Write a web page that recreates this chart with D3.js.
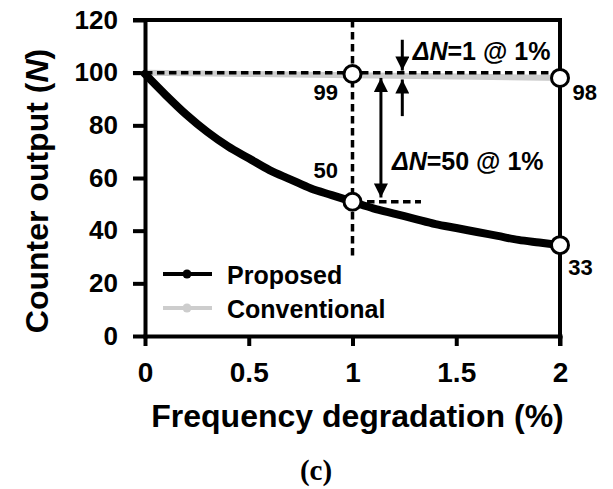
<!DOCTYPE html>
<html>
<head>
<meta charset="utf-8">
<script src="https://cdn.jsdelivr.net/npm/d3@7"></script>
<style>
  body { margin: 0; background: #fff; }
  text { font-family: "Liberation Sans", Arial, sans-serif; font-weight: bold; fill: #000; }
</style>
</head>
<body>
<svg id="chart" width="613" height="489"></svg>
<script>
// data
const degradation = [0, 0.1, 0.2, 0.3, 0.4, 0.5, 0.6, 0.7, 0.8, 0.9, 1.0, 1.1, 1.2, 1.3, 1.4, 1.5, 1.6, 1.7, 1.8, 1.9, 2.0]
const proposed = [99.5, 91.5, 84, 77.5, 72, 67.5, 63, 59.5, 56, 53.5, 51, 48.5, 46.5, 44.5, 42.5, 41, 39.5, 38, 36.5, 35.5, 34.5]
const convX = [0, 0.5, 1, 1.5, 2]
const conventional = [100, 99.5, 99, 98.5, 98]
const xTicks = [0, 0.5, 1, 1.5, 2]
const yTicks = [0, 20, 40, 60, 80, 100, 120]
const markers = [
  {x: 1, y: 99.5, label: "99"},
  {x: 1, y: 51, label: "50"},
  {x: 2, y: 34.5, label: "33"},
  {x: 2, y: 98, label: "98"}
]

const svg = d3.select("#chart")
const x = d3.scaleLinear().domain([0, 2]).range([145, 560])
const y = d3.scaleLinear().domain([0, 120]).range([336, 20])

const defs = svg.append("defs")
defs.append("marker")
    .attr("id", "head")
    .attr("viewBox", "0 0 10 10")
    .attr("refX", 10).attr("refY", 5)
    .attr("markerWidth", 18).attr("markerHeight", 14)
    .attr("markerUnits", "userSpaceOnUse")
    .attr("orient", "auto-start-reverse")
  .append("path")
    .attr("d", "M0,0 L10,5 L0,10 Z")
    .attr("fill", "#000")

// conventional (grey) line
svg.append("path")
    .attr("d", d3.line().x((d, i) => x(convX[i])).y(d => y(d))(conventional))
    .attr("fill", "none")
    .attr("stroke", "#cdcdcd")
    .attr("stroke-width", 6)

// dashed guides
const dash = (x1, y1, x2, y2) => svg.append("line")
    .attr("x1", x(x1)).attr("y1", y(y1)).attr("x2", x(x2)).attr("y2", y(y2))
    .attr("stroke", "#000").attr("stroke-width", 3.5)
    .attr("stroke-dasharray", "7.5,4.5")
dash(-0.058, 100, 2, 100)
dash(1, 120, 1, 30.5)
dash(1.07, 51, 1.33, 51)

// axes
const yAxis = svg.append("g")
    .attr("transform", `translate(${x(0)},0)`)
    .call(d3.axisLeft(y).tickValues(yTicks).tickSize(12).tickSizeOuter(0).tickPadding(15))
const xAxis = svg.append("g")
    .attr("transform", `translate(0,${y(0)})`)
    .call(d3.axisBottom(x).tickValues(xTicks).tickSize(10).tickSizeOuter(0).tickPadding(16).tickFormat(d => d))
for (const a of [yAxis, xAxis]) {
  a.selectAll("path, line").attr("stroke", "#000").attr("stroke-width", 4)
  a.select(".domain").attr("stroke-linecap", "square")
}
yAxis.selectAll("text").attr("font-size", 26).attr("font-family", "Liberation Sans, Arial").attr("font-weight", "bold")
xAxis.selectAll("text").attr("font-size", 28).attr("font-family", "Liberation Sans, Arial").attr("font-weight", "bold")

// frame top + right
svg.append("path")
    .attr("d", d3.line()([[x(0) - 12, y(120)], [x(2), y(120)], [x(2), y(0) + 10]]))
    .attr("fill", "none").attr("stroke", "#000").attr("stroke-width", 4)

// proposed curve
svg.append("path")
    .attr("d", d3.line().x((d, i) => x(degradation[i])).y(d => y(d)).curve(d3.curveMonotoneX)(proposed))
    .attr("fill", "none")
    .attr("stroke", "#000")
    .attr("stroke-width", 8)
    .attr("stroke-linecap", "round")

// circles
svg.selectAll("circle.mk")
    .data(markers)
    .join("circle")
    .attr("class", "mk")
    .attr("cx", d => x(d.x)).attr("cy", d => y(d.y))
    .attr("r", 8.5)
    .attr("fill", "#fff").attr("stroke", "#000").attr("stroke-width", 3)

// arrows
const arrow = (x1, y1, x2, y2, both) => svg.append("line")
    .attr("x1", x(x1)).attr("y1", y(y1)).attr("x2", x(x2)).attr("y2", y(y2))
    .attr("stroke", "#000").attr("stroke-width", 3)
    .attr("marker-end", "url(#head)")
    .attr("marker-start", both ? "url(#head)" : null)
arrow(1.24, 112.5, 1.24, 100.8)
arrow(1.24, 83.5, 1.24, 97.4)
arrow(1.137, 98, 1.137, 52.6, true)

// value labels
const lab = (t, xv, yv, anchor) => svg.append("text")
    .attr("x", x(xv)).attr("y", y(yv))
    .attr("text-anchor", anchor)
    .attr("font-size", 22)
    .text(t)
lab(markers[0].label, 0.93, 89.6, "end")
lab(markers[1].label, 0.93, 60, "end")
lab(markers[2].label, 2.04, 23.2, "start")
lab(markers[3].label, 2.06, 89.6, "start")

// delta annotations
const delta = (rest, xv, yv) => {
  const t = svg.append("text").attr("x", x(xv)).attr("y", y(yv)).attr("font-size", 25)
  t.append("tspan").attr("font-style", "italic").text("ΔN")
  t.append("tspan").text(rest)
}
delta("=1 @ 1%", 1.29, 104.8)
delta("=50 @ 1%", 1.19, 63)

// legend
const legend = [
  {name: "Proposed", color: "#000", y: 274},
  {name: "Conventional", color: "#cdcdcd", y: 308}
]
const lg = svg.append("g")
lg.selectAll("line").data(legend).join("line")
    .attr("x1", 163).attr("x2", 212).attr("y1", d => d.y).attr("y2", d => d.y)
    .attr("stroke", d => d.color).attr("stroke-width", 4)
lg.selectAll("circle").data(legend).join("circle")
    .attr("cx", 187).attr("cy", d => d.y).attr("r", 4.5).attr("fill", d => d.color)
lg.selectAll("text").data(legend).join("text")
    .attr("x", 227).attr("y", d => d.y + 9.5)
    .attr("font-size", 25)
    .text(d => d.name)

// axis titles
const yTitle = svg.append("text")
    .attr("transform", "translate(48,191) rotate(-90)")
    .attr("text-anchor", "middle")
    .attr("font-size", 32)
yTitle.append("tspan").text("Counter output (")
yTitle.append("tspan").attr("font-style", "italic").text("N")
yTitle.append("tspan").text(")")

svg.append("text")
    .attr("x", 357.5).attr("y", 427)
    .attr("text-anchor", "middle")
    .attr("font-size", 32)
    .text("Frequency degradation (%)")

svg.append("text")
    .attr("x", 316).attr("y", 480)
    .attr("text-anchor", "middle")
    .attr("font-size", 29)
    .style("font-family", "Liberation Serif, Times New Roman, serif")
    .text("(c)")
</script>
</body>
</html>
